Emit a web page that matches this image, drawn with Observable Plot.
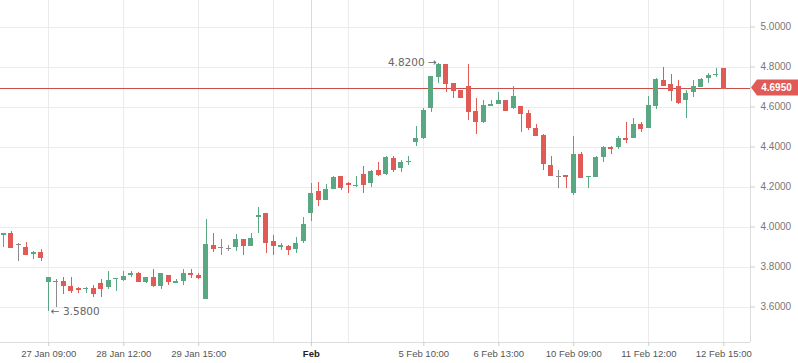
<!DOCTYPE html>
<html>
<head>
<meta charset="utf-8">
<script src="https://cdn.jsdelivr.net/npm/d3@7"></script>
<script src="https://cdn.jsdelivr.net/npm/@observablehq/plot@0.6"></script>
<style>
  html, body { margin: 0; padding: 0; background: #fff; }
  #chart svg { display: block; }
</style>
</head>
<body>
<div id="chart"></div>
<script>
// Candle data (index-based, one candle per period)
const open = [3.9575,3.966,3.911,3.8975,3.861,3.8725,3.721,3.726,3.7275,3.7025,
  3.691,3.6875,3.6925,3.719,3.699,3.736,3.7325,3.756,3.769,3.7225,
  3.7475,3.704,3.756,3.719,3.729,3.769,3.759,3.639,3.9075,3.894,
  3.894,3.899,3.9375,3.904,4.049,4.0675,3.9275,3.899,3.9025,3.889,
  3.929,4.069,4.1775,4.1325,4.189,4.2525,4.2175,4.2025,4.2625,4.219,
  4.2825,4.2625,4.3425,4.294,4.325,4.424,4.4425,4.5925,4.749,4.8125,
  4.7175,4.6825,4.7025,4.5775,4.524,4.604,4.614,4.6325,4.5925,4.6025,
  4.566,4.494,4.4575,4.3075,4.254,4.2575,4.166,4.3625,4.2475,4.2475,
  4.346,4.3975,4.3975,4.441,4.441,4.5125,4.494,4.6025,4.7325,4.714,
  4.7025,4.6325,4.6725,4.6975,4.7425,4.761,4.791];
const high = [3.966,3.9775,3.919,3.9225,3.8775,3.8875,3.7475,3.736,3.749,3.7475,
  3.699,3.699,3.706,3.736,3.779,3.7425,3.7775,3.7775,3.774,3.7475,
  3.7875,3.769,3.756,3.7375,3.7875,3.7875,3.7675,4.0375,3.9675,3.9375,
  3.9075,3.9625,3.9375,3.9675,4.0975,4.0675,3.9575,3.9175,3.9075,3.9475,
  4.0475,4.2175,4.225,4.2125,4.2525,4.2525,4.224,4.2525,4.3025,4.2825,
  4.3225,4.354,4.354,4.3325,4.3525,4.5025,4.5925,4.7525,4.82,4.815,
  4.7175,4.6825,4.8125,4.641,4.631,4.6325,4.6725,4.6325,4.7025,4.6025,
  4.5825,4.5125,4.461,4.3525,4.2825,4.2575,4.4525,4.374,4.2525,4.351,
  4.401,4.401,4.4525,4.521,4.5425,4.5225,4.6525,4.744,4.799,4.764,
  4.7325,4.6825,4.7325,4.7425,4.766,4.791,4.791];
const low = [3.899,3.899,3.829,3.859,3.839,3.829,3.58,3.599,3.6625,3.669,
  3.669,3.666,3.649,3.649,3.686,3.679,3.7275,3.749,3.721,3.719,
  3.699,3.6875,3.709,3.716,3.709,3.744,3.739,3.636,3.8725,3.859,
  3.879,3.8775,3.859,3.904,3.969,3.869,3.859,3.884,3.859,3.869,
  3.919,4.029,4.105,4.1325,4.189,4.184,4.169,4.199,4.169,4.1975,
  4.2525,4.2575,4.2725,4.2725,4.3075,4.4025,4.439,4.574,4.716,4.674,
  4.644,4.646,4.5325,4.464,4.519,4.604,4.614,4.584,4.5875,4.474,
  4.4825,4.4575,4.2825,4.254,4.191,4.191,4.1575,4.244,4.191,4.2475,
  4.3225,4.364,4.386,4.416,4.441,4.474,4.494,4.5875,4.7025,4.6275,
  4.6125,4.544,4.649,4.6975,4.719,4.749,4.695];
const close = [3.966,3.899,3.911,3.864,3.871,3.849,3.7475,3.726,3.709,3.684,
  3.686,3.6925,3.669,3.691,3.7325,3.7425,3.7525,3.769,3.7275,3.7475,
  3.709,3.766,3.729,3.729,3.766,3.761,3.7475,3.9125,3.8925,3.8975,
  3.894,3.9375,3.909,3.9425,4.059,3.924,3.909,3.9075,3.889,3.9175,
  4.0125,4.1675,4.1375,4.1875,4.2475,4.199,4.2125,4.2075,4.214,4.2775,
  4.2625,4.349,4.289,4.3225,4.3275,4.4425,4.5825,4.7525,4.815,4.719,
  4.684,4.649,4.579,4.529,4.606,4.6125,4.6325,4.584,4.6525,4.566,
  4.499,4.4575,4.316,4.2575,4.254,4.2525,4.3625,4.2475,4.2525,4.346,
  4.396,4.3925,4.441,4.4375,4.5125,4.494,4.6075,4.7375,4.7075,4.6825,
  4.624,4.669,4.7025,4.7375,4.7575,4.764,4.695];

// Axis ticks
const xTickIndex = [6, 16, 26, 41, 56, 66, 76, 86, 96];
const xTickLabels = ["27 Jan 09:00", "28 Jan 12:00", "29 Jan 15:00", "Feb", "5 Feb 10:00", "6 Feb 13:00", "10 Feb 09:00", "11 Feb 12:00", "12 Feb 15:00"];
const xGridIndex = [6, 16, 26, 36, 46, 56, 66, 76, 86, 96];
const monthIndex = [41];
const yTicks = [3.6, 3.8, 4.0, 4.2, 4.4, 4.6, 4.8, 5.0];
const lastPrice = 4.695;
const highMarkIndex = [58];
const lowMarkIndex = [6];

const GREEN = "#5aa883", RED = "#e15b56", GREY = "#8c8c8c";
const idx = d3.range(open.length);
const col = i => close[i] > open[i] ? GREEN : close[i] < open[i] ? RED : GREY;
const fmt = d3.format(".4f");
const labelOf = new Map(xTickIndex.map((d, k) => [d, xTickLabels[k]]));
const HW = 0.333;
const crisp = {shapeRendering: "crispEdges"};

const chart = Plot.plot({
  width: 798,
  height: 363,
  marginLeft: 0,
  marginRight: 48,
  marginTop: 0,
  marginBottom: 21,
  style: {fontFamily: "'Liberation Sans', Arial, sans-serif", fontSize: "9.5px", background: "#fff"},
  x: {type: "linear", domain: [-0.44, 99.56]},
  y: {domain: [3.4225, 5.1325]},
  color: {type: "identity"},
  marks: [
    Plot.ruleY(yTicks, {stroke: "#ebebeb", ...crisp}),
    Plot.ruleX(xGridIndex, {stroke: "#ebebeb", ...crisp}),
    Plot.ruleX(monthIndex, {stroke: "#dadada", ...crisp}),
    Plot.ruleY([3.4225], {stroke: "#dddddd", ...crisp}),
    Plot.ruleX([99.56], {stroke: "#dddddd", ...crisp}),
    Plot.ruleY([lastPrice], {stroke: "#c94d48", strokeWidth: 1, ...crisp}),
    Plot.ruleX(idx, {x: i => i, y1: i => low[i], y2: i => high[i], stroke: col, ...crisp}),
    Plot.rect(idx, {x1: i => i - HW, x2: i => i + HW, y1: i => Math.min(open[i], close[i]), y2: i => Math.max(open[i], close[i]), fill: col, ...crisp}),
    Plot.ruleY(idx, {y: i => close[i], x1: i => i - HW, x2: i => i + HW, stroke: col, ...crisp}),
    Plot.text(highMarkIndex, {x: d => d, y: d => high[d], text: d => fmt(high[d]) + " \u2192", textAnchor: "end", dx: -2, fill: "#666", fontSize: 10.5, fontFamily: "'DejaVu Sans', sans-serif"}),
    Plot.text(lowMarkIndex, {x: d => d, y: d => low[d], text: d => "\u2190 " + fmt(low[d]), textAnchor: "start", dx: 2, dy: 1, fill: "#666", fontSize: 10.5, fontFamily: "'DejaVu Sans', sans-serif"}),
    Plot.axisY({anchor: "right", ticks: yTicks, tickFormat: fmt, tickSize: 4, tickPadding: 6, stroke: "#cccccc", fill: "#777", fontSize: 10}),
    Plot.axisX({anchor: "bottom", ticks: xTickIndex.filter(d => !monthIndex.includes(d)), tickFormat: d => labelOf.get(d), tickSize: 4, tickPadding: 4, stroke: "#cccccc", fill: "#555"}),
    Plot.axisX({anchor: "bottom", ticks: monthIndex, tickFormat: d => labelOf.get(d), tickSize: 4, tickPadding: 4, stroke: "#cccccc", fill: "#222", fontWeight: "bold"}),
    (index, scales, values, dimensions) => {
      const y = Math.round(scales.y(lastPrice)) + 0.5;
      const x0 = dimensions.width - dimensions.marginRight + 1;
      const x1 = dimensions.width;
      const g = d3.create("svg:g");
      g.append("path")
        .attr("d", `M${x0},${y} L${x0 + 6},${y - 8} H${x1} V${y + 8} H${x0 + 6} Z`)
        .attr("fill", "#e05a57");
      g.append("text")
        .attr("x", (x0 + 4 + x1) / 2)
        .attr("y", y)
        .attr("dy", "0.35em")
        .attr("text-anchor", "middle")
        .attr("fill", "#fff")
        .attr("font-weight", "bold")
        .attr("font-size", 10)
        .text(fmt(lastPrice));
      return g.node();
    }
  ]
});
document.getElementById("chart").appendChild(chart);
</script>
</body>
</html>
